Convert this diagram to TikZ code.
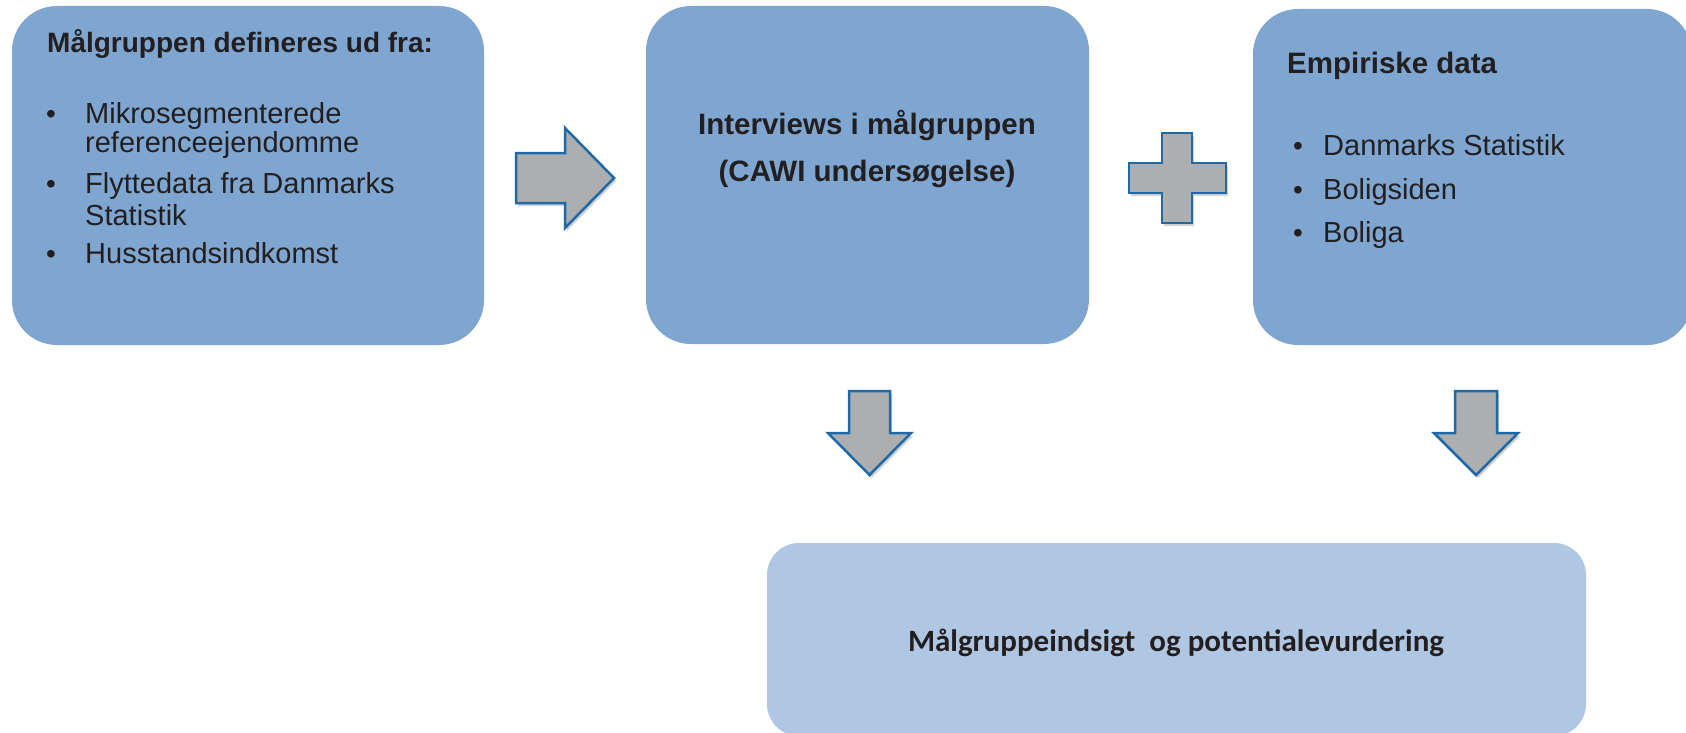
\documentclass[tikz,border=0pt]{standalone}
\usepackage{fontspec}
\setmainfont{Liberation Sans}
\newfontfamily\calibrifont{Carlito}
\usetikzlibrary{shadows}

\definecolor{boxblue}{RGB}{126,166,208}
\definecolor{paleblue}{RGB}{176,199,227}
\definecolor{arrowgray}{RGB}{173,174,176}
\definecolor{arrowedge}{RGB}{30,106,168}
\definecolor{inkdark}{RGB}{35,31,32}

\tikzset{
  block/.style={fill=boxblue, rounded corners=45pt, inner sep=0pt},
  resultblock/.style={fill=paleblue, rounded corners=32pt, inner sep=0pt},
  headtext/.style={text=inkdark, inner sep=0pt, font=\fontsize{28}{30}\selectfont\bfseries},
  bighead/.style={text=inkdark, inner sep=0pt, font=\fontsize{29.5}{31}\selectfont\bfseries},
  itemtext/.style={text=inkdark, inner sep=0pt, anchor=base west, font=\fontsize{29}{31}\selectfont},
  dot/.style={text=inkdark, inner sep=0pt, anchor=base, font=\fontsize{28}{30}\selectfont},
  blockarrow/.style={fill=arrowgray, draw=arrowedge, line width=2.5pt, line join=miter,
    drop shadow={shadow xshift=2pt, shadow yshift=-3pt, opacity=0.3, fill=black!60}}
}

\begin{document}
\begin{tikzpicture}[x=1pt, y=-1pt]
\useasboundingbox (0,0) rectangle (1686,733);

% boxes
\node[block, minimum width=472pt, minimum height=339pt] (target) at (248,175.5) {};
\node[block, minimum width=443pt, minimum height=338pt] (interview) at (867.5,175) {};
\node[block, minimum width=439pt, minimum height=336pt] (empiric) at (1472.5,177) {};
\node[resultblock, minimum width=819pt, minimum height=193pt] (result) at (1176.5,639.5) {};
\node[text=inkdark, inner sep=0pt, anchor=base,
  font=\calibrifont\fontsize{31}{33}\selectfont\bfseries] (resulttext) at (1176,651)
  {Målgruppeindsigt \ og potentialevurdering};

% left box
\node[headtext, anchor=base west] (targethead) at (47,53) {Målgruppen defineres ud fra:};
\node[dot] (td1) at (51,124) {•};
\node[itemtext] (ti1) at (85,124) {Mikrosegmenterede};
\node[itemtext] (ti1b) at (85,153) {referenceejendomme};
\node[dot] (td2) at (51,193) {•};
\node[itemtext] (ti2) at (85,193) {Flyttedata fra Danmarks};
\node[itemtext] (ti2b) at (85,225) {Statistik};
\node[dot] (td3) at (51,263) {•};
\node[itemtext] (ti3) at (85,263) {Husstandsindkomst};

% middle box
\node[bighead, anchor=base] (interviewhead) at (867,135) {Interviews i målgruppen};
\node[bighead, anchor=base] (interviewsub) at (867,181) {(CAWI undersøgelse)};

% right box
\node[bighead, anchor=base west] (empirichead) at (1287,74) {Empiriske data};
\node[dot] (ed1) at (1298,156) {•};
\node[itemtext] (ei1) at (1323,156) {Danmarks Statistik};
\node[dot] (ed2) at (1298,199) {•};
\node[itemtext] (ei2) at (1323,199) {Boligsiden};
\node[dot] (ed3) at (1298,242) {•};
\node[itemtext] (ei3) at (1323,242) {Boliga};

% block arrows
\draw[blockarrow] (516,153) -- (565,153) -- (565,128) -- (614,178) -- (565,228)
  -- (565,203) -- (516,203) -- cycle;
\draw[blockarrow] (1162,133) -- (1192,133) -- (1192,163) -- (1226,163) -- (1226,193)
  -- (1192,193) -- (1192,223) -- (1162,223) -- (1162,193) -- (1129,193) -- (1129,163)
  -- (1162,163) -- cycle;
\draw[blockarrow] (849,391) -- (890,391) -- (890,433) -- (911,433) -- (869.5,475)
  -- (828,433) -- (849,433) -- cycle;
\draw[blockarrow] (1455,391) -- (1497,391) -- (1497,433) -- (1518,433) -- (1476,475)
  -- (1434,433) -- (1455,433) -- cycle;

\end{tikzpicture}
\end{document}
